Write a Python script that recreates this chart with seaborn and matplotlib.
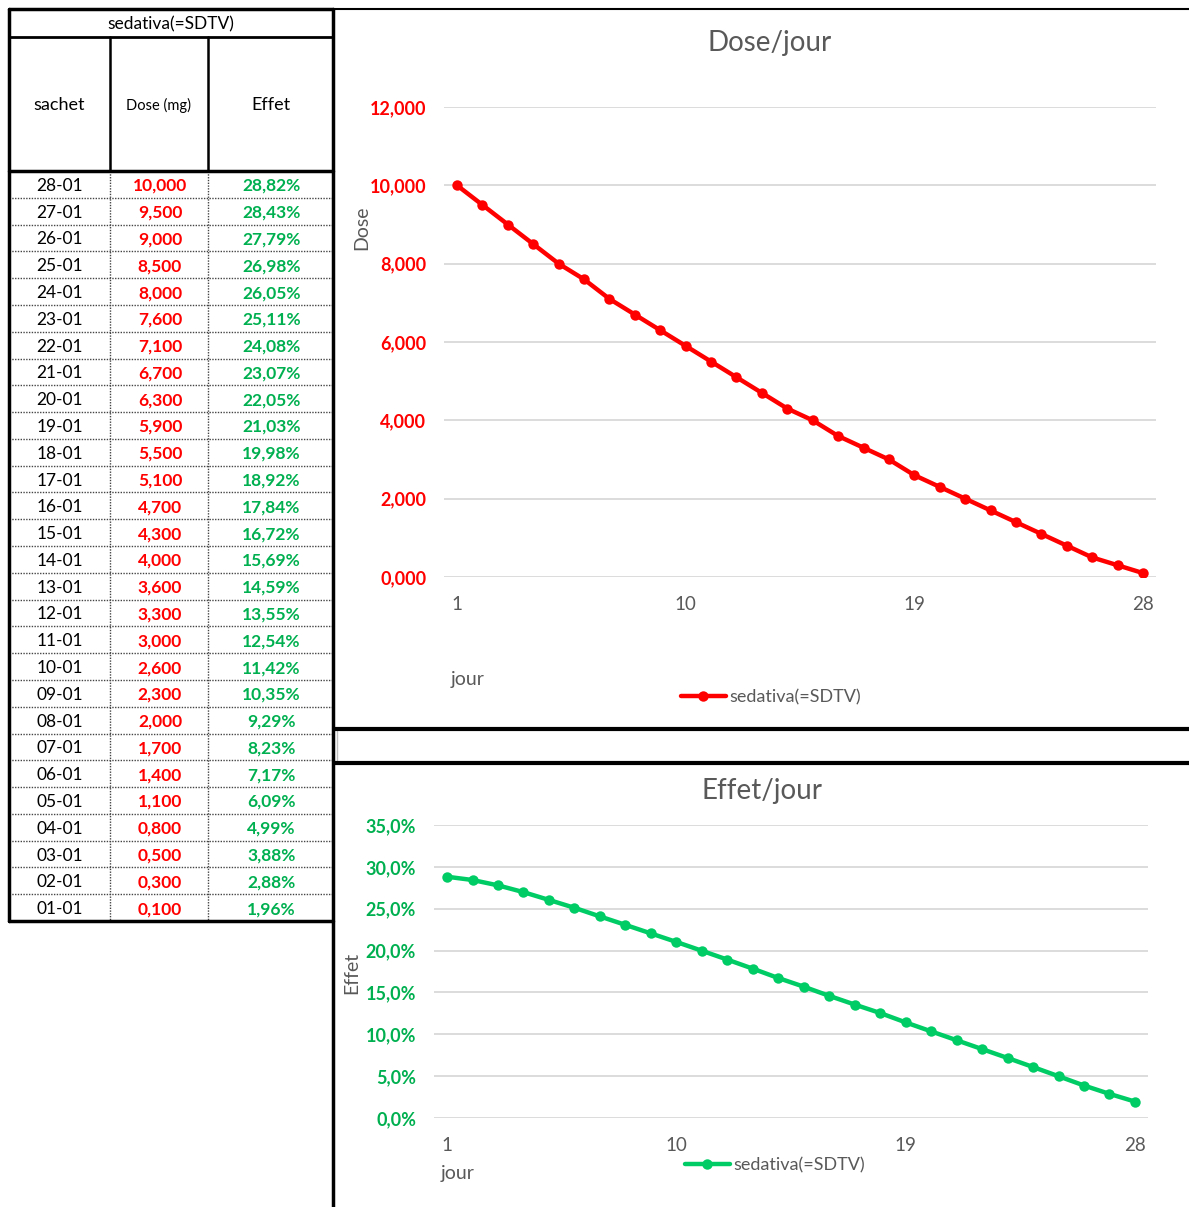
import matplotlib
matplotlib.use("Agg")
import matplotlib.pyplot as plt
import seaborn as sns
import numpy as np
import pandas as pd
from matplotlib.ticker import FixedLocator, FuncFormatter

# ---- data -------------------------------------------------------------
sachets = ["28-01", "27-01", "26-01", "25-01", "24-01", "23-01", "22-01",
           "21-01", "20-01", "19-01", "18-01", "17-01", "16-01", "15-01",
           "14-01", "13-01", "12-01", "11-01", "10-01", "09-01", "08-01",
           "07-01", "06-01", "05-01", "04-01", "03-01", "02-01", "01-01"]
dose_mg = [10.0, 9.5, 9.0, 8.5, 8.0, 7.6, 7.1, 6.7, 6.3, 5.9, 5.5, 5.1, 4.7,
           4.3, 4.0, 3.6, 3.3, 3.0, 2.6, 2.3, 2.0, 1.7, 1.4, 1.1, 0.8, 0.5,
           0.3, 0.1]
effet_pct = [28.82, 28.43, 27.79, 26.98, 26.05, 25.11, 24.08, 23.07, 22.05,
             21.03, 19.98, 18.92, 17.84, 16.72, 15.69, 14.59, 13.55, 12.54,
             11.42, 10.35, 9.29, 8.23, 7.17, 6.09, 4.99, 3.88, 2.88, 1.96]
jours = list(range(1, len(dose_mg) + 1))
x_ticks = [1, 10, 19, 28]
dose_ticks = [0, 2, 4, 6, 8, 10, 12]
effet_ticks = [0, 5, 10, 15, 20, 25, 30, 35]

serie = "sedativa(=SDTV)"
df = pd.DataFrame({"jour": jours, "dose": dose_mg, "effet": effet_pct})

# ---- style ------------------------------------------------------------
sns.set_theme(style="white")
plt.rcParams["font.family"] = ["Lato", "DejaVu Sans"]

RED = "#FF0000"
GREEN_TXT = "#00B050"
GREEN_LINE = "#00CC66"
GRAY = "#595959"
GRID = "#D9D9D9"

W, H = 1189, 1207
fig = plt.figure(figsize=(W / 100, H / 100), dpi=100)
fig.patch.set_facecolor("white")

# full-figure overlay in pixel units for the table, frames and free labels
ov = fig.add_axes([0, 0, 1, 1])
ov.set_xlim(0, W)
ov.set_ylim(H, 0)
ov.axis("off")


def fx(px):
    return px / W


def fy(py):
    return 1 - py / H


# ---- table ------------------------------------------------------------
tl, tr = 9, 333
col_x = [tl, 110, 208, tr]
t_top, t_title, t_head = 9, 37, 171
t_bottom = 921
n = len(sachets)
row_h = (t_bottom - t_head) / n

ov.text((tl + tr) / 2, (t_top + t_title) / 2 + 1, serie, ha="center",
        va="center", fontsize=12.5, color="black")
heads = ["sachet", "Dose (mg)", "Effet"]
head_fs = [13, 10.5, 13]
for i, h in enumerate(heads):
    ov.text((col_x[i] + col_x[i + 1]) / 2, (t_title + t_head) / 2 + 1, h,
            ha="center", va="center", fontsize=head_fs[i], color="black")

for r in range(n):
    yc = t_head + (r + 0.5) * row_h + 1.5
    ov.text((col_x[0] + col_x[1]) / 2, yc, sachets[r], ha="center",
            va="center", fontsize=12.5, color="black")
    ov.text((col_x[1] + col_x[2]) / 2 + 1, yc,
            f"{dose_mg[r]:.3f}".replace(".", ","), ha="center", va="center",
            fontsize=12.5, color=RED, fontweight="bold")
    ov.text((col_x[2] + col_x[3]) / 2 + 1, yc,
            f"{effet_pct[r]:.2f}%".replace(".", ","), ha="center",
            va="center", fontsize=12.5, color=GREEN_TXT, fontweight="bold")
    if r > 0:
        yl = t_head + r * row_h
        ov.plot([tl, tr], [yl, yl], color="#444444", lw=1.0,
                linestyle=(0, (1, 1)), zorder=2)

# dotted column separators in data rows, solid in header
for cx in col_x[1:3]:
    ov.plot([cx, cx], [t_head, t_bottom], color="#444444", lw=1.0,
            linestyle=(0, (1, 1)), zorder=2)
    ov.plot([cx, cx], [t_title, t_head], color="black", lw=1.8, zorder=3)

# thick frame lines
ov.plot([tl, tl], [t_top, t_bottom], color="black", lw=2.5, zorder=4)
ov.plot([tr, tr], [t_top, H], color="black", lw=2.5, zorder=4)
ov.plot([tl, tr], [t_top, t_top], color="black", lw=2.5, zorder=4)
ov.plot([tl, tr], [t_title, t_title], color="black", lw=2.0, zorder=4)
ov.plot([tl, tr], [t_head, t_head], color="black", lw=2.5, zorder=4)
ov.plot([tl, tr], [t_bottom, t_bottom], color="black", lw=2.5, zorder=4)

# chart panel frames
ov.plot([tr, W], [t_top, t_top], color="black", lw=1.5, zorder=4)
ov.plot([tr + 2, W], [729, 729], color="black", lw=3.0, zorder=4)
ov.plot([tr + 2, W], [763, 763], color="black", lw=3.0, zorder=4)
ov.plot([337, 337], [731, 761], color="#BFBFBF", lw=1.0, zorder=3)

# ---- chart helpers ----------------------------------------------------
def style_axis(ax, yticks, yfmt, ycolor, pad_y):
    ax.set_xlim(0.5, 28.5)
    ax.set_ylim(yticks[0], yticks[-1])
    for s in ax.spines.values():
        s.set_visible(False)
    ax.yaxis.set_major_locator(FixedLocator(yticks))
    ax.yaxis.set_major_formatter(FuncFormatter(yfmt))
    ax.xaxis.set_major_locator(FixedLocator(x_ticks))
    ax.grid(axis="y", color=GRID, lw=1.3)
    ax.grid(axis="x", visible=False)
    ax.tick_params(axis="y", length=0, pad=pad_y, labelsize=13,
                   labelcolor=ycolor)
    ax.tick_params(axis="x", length=0, pad=14, labelsize=13.5,
                   labelcolor=GRAY)
    for lab in ax.get_yticklabels():
        lab.set_fontweight("bold")
    ax.set_xlabel("")
    ax.set_ylabel("")
    ax.set_facecolor("none")


# ---- chart 1 : Dose/jour ---------------------------------------------
ax1 = fig.add_axes([fx(444.3), fy(577), fx(1155.7 - 444.3), (577 - 107) / H])
sns.lineplot(data=df, x="jour", y="dose", ax=ax1, color=RED, lw=3.2,
             marker="o", markersize=7.5, markeredgewidth=0, label=serie)
style_axis(ax1, dose_ticks, lambda v, p: f"{v:.3f}".replace(".", ","), RED, 13)
for lab in ax1.get_yticklabels():
    lab.set_fontweight("bold")
ax1.legend(loc="center", bbox_to_anchor=(fx(771), fy(697)),
           bbox_transform=fig.transFigure, frameon=False, fontsize=13,
           handlelength=2.5, handletextpad=0.2, labelcolor=GRAY)
ov.text(770, 43, "Dose/jour", ha="center", va="center", fontsize=20,
        color=GRAY)
ov.text(362, 228, "Dose", ha="center", va="center", rotation=90,
        fontsize=14, color=GRAY)
ov.text(468, 680, "jour", ha="center", va="center", fontsize=14, color=GRAY)

# ---- chart 2 : Effet/jour --------------------------------------------
ax2 = fig.add_axes([fx(434.3), fy(1118), fx(1147.7 - 434.3),
                    (1118 - 825) / H])
sns.lineplot(data=df, x="jour", y="effet", ax=ax2, color=GREEN_LINE, lw=3.2,
             marker="o", markersize=7.5, markeredgewidth=0, label=serie)
style_axis(ax2, effet_ticks, lambda v, p: f"{v:.1f}%".replace(".", ","),
           GREEN_TXT, 13)
for lab in ax2.get_yticklabels():
    lab.set_fontweight("bold")
ax2.legend(loc="center", bbox_to_anchor=(fx(775), fy(1165)),
           bbox_transform=fig.transFigure, frameon=False, fontsize=13,
           handlelength=2.5, handletextpad=0.2, labelcolor=GRAY)
ov.text(762, 791, "Effet/jour", ha="center", va="center", fontsize=20,
        color=GRAY)
ov.text(352, 973, "Effet", ha="center", va="center", rotation=90,
        fontsize=14, color=GRAY)
ov.text(458, 1174, "jour", ha="center", va="center", fontsize=14, color=GRAY)

fig.savefig("out.png", dpi=100, facecolor="white")
